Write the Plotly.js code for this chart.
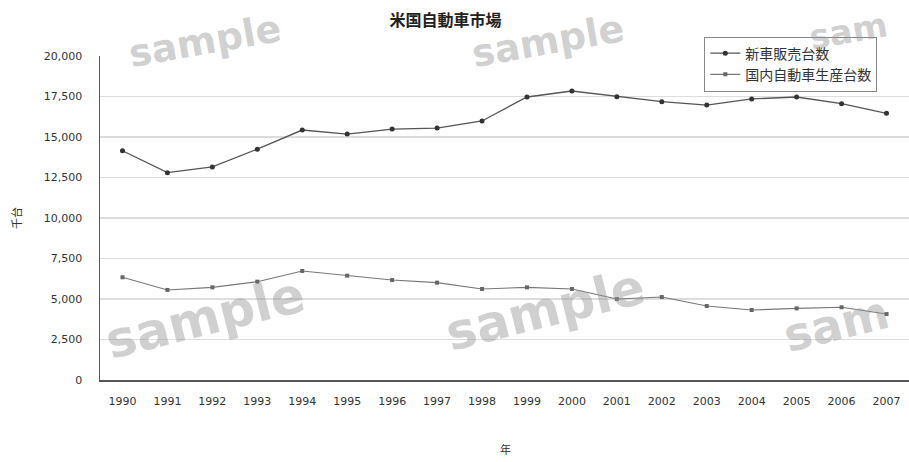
<!DOCTYPE html>
<html>
<head>
<meta charset="utf-8">
<script src="https://cdn.plot.ly/plotly-3.0.1.min.js"></script>
<style>html,body{margin:0;padding:0;background:#fff;}#chart{width:909px;height:462px;}</style>
</head>
<body>
<div id="chart"></div>
<script>
const years = ['1990','1991','1992','1993','1994','1995','1996','1997','1998','1999','2000','2001','2002','2003','2004','2005','2006','2007'];
const newCarSales = [14150, 12800, 13150, 14250, 15430, 15180, 15490, 15550, 15990, 17470, 17840, 17490, 17180, 16970, 17350, 17470, 17060, 16460];
const domesticProduction = [6340, 5560, 5720, 6070, 6730, 6440, 6170, 6010, 5620, 5720, 5620, 5000, 5120, 4570, 4320, 4420, 4490, 4070];
const seriesNames = ['新車販売台数', '国内自動車生産台数'];
const yTicks = [0, 2500, 5000, 7500, 10000, 12500, 15000, 17500, 20000];
const watermarkTexts = ['sample', 'sample', 'sam', 'sample', 'sample', 'sam'];

const jp = '"Noto Sans CJK JP", "Noto Sans", sans-serif';
const num = '"DejaVu Sans", sans-serif';
const traces = [
  {x: years, y: newCarSales, name: seriesNames[0], type: 'scatter', mode: 'lines+markers',
   line: {color: '#555', width: 1.3}, marker: {color: '#333', size: 5, symbol: 'circle'}},
  {x: years, y: domesticProduction, name: seriesNames[1], type: 'scatter', mode: 'lines+markers',
   line: {color: '#777', width: 1.1}, marker: {color: '#666', size: 4, symbol: 'square'}}
];

function px(x){return (x-100)/809;}
function py(y){return (380-y)/324;}
// [centre x px, centre y px, font size, angle]
const wmPos = [[205,41,38,-10],[548,41,38,-10],[848,31,34,-10],[205,318,50,-14],[545,310,50,-14],[836,324,46,-14]];
const annotations = wmPos.map((p, i) => ({
  text: watermarkTexts[i], x: px(p[0]), y: py(p[1]), xref: 'paper', yref: 'paper',
  xanchor: 'center', yanchor: 'middle', showarrow: false, textangle: p[3],
  font: {family: '"DejaVu Sans", sans-serif', size: p[2], color: 'rgba(150,150,150,0.45)', weight: 'bold'}
}));
annotations.push({text: '千台', textangle: -90, x: px(16), y: py(218), xref: 'paper', yref: 'paper', showarrow: false,
  xanchor: 'center', yanchor: 'middle', font: {family: jp, size: 11, color: '#333'}});
annotations.push({text: '年', x: px(505), y: py(449), xref: 'paper', yref: 'paper', showarrow: false,
  xanchor: 'center', yanchor: 'middle', font: {family: jp, size: 11, color: '#333'}});

const layout = {
  width: 909, height: 462,
  margin: {l: 100, r: 0, t: 56, b: 82},
  paper_bgcolor: '#fff', plot_bgcolor: '#fff',
  title: {text: '<b>米国自動車市場</b>', x: 0.49, xanchor: 'center', y: 0.955, yanchor: 'middle',
    font: {family: jp, size: 16, color: '#222'}},
  showlegend: true,
  legend: {x: 0.747, xanchor: 'left', y: 1.06, yanchor: 'top', bgcolor: '#fff', bordercolor: '#888', borderwidth: 1,
    font: {family: jp, size: 14, color: '#333'}, tracegroupgap: 2, itemwidth: 30},
  xaxis: {type: 'category', range: [-0.5, 17.5], showline: true, linecolor: '#555', linewidth: 1.5,
    showgrid: false, ticks: '', tickfont: {family: num, size: 11, color: '#333'}, ticklabelstandoff: 10},
  yaxis: {range: [0, 20000], tickvals: yTicks, tickformat: ',d', showline: true, linecolor: '#555', linewidth: 1.5,
    gridcolor: '#ddd', gridwidth: 1.5, ticks: '', tickfont: {family: num, size: 11, color: '#333'},
    ticklabelstandoff: 14, zeroline: false},
  annotations: annotations
};
Plotly.newPlot('chart', traces, layout, {displayModeBar: false, staticPlot: true});
</script>
</body>
</html>
